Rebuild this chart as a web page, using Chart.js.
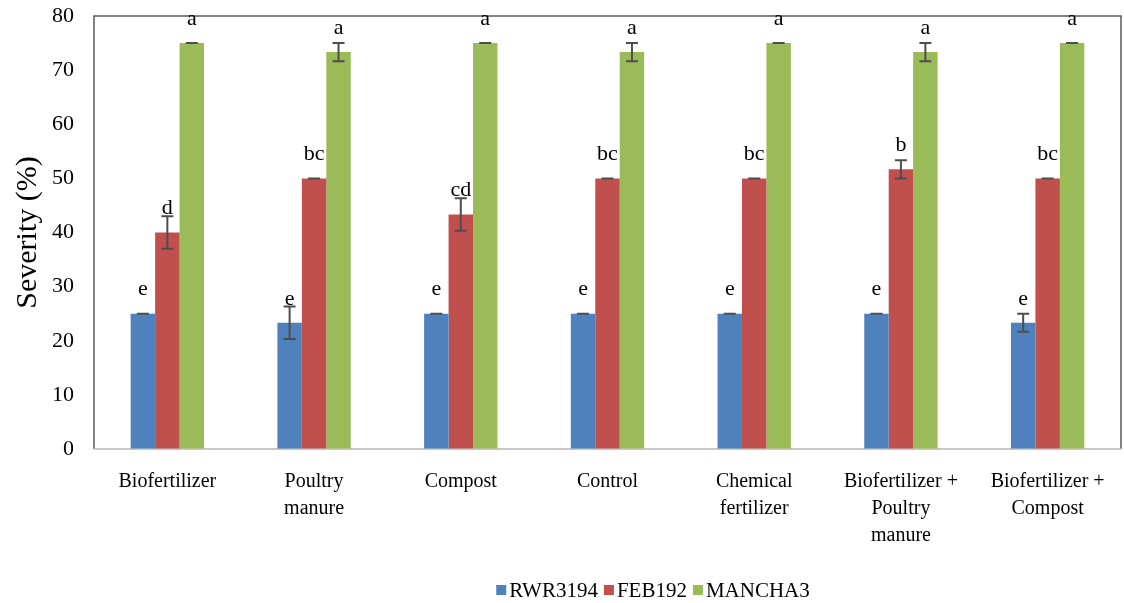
<!DOCTYPE html>
<html>
<head>
<meta charset="utf-8">
<script src="https://cdn.jsdelivr.net/npm/chart.js@4"></script>
<style>
  html, body { margin: 0; padding: 0; background: #fff; }
  #wrap { width: 1124px; height: 603px; }
</style>
</head>
<body>
<div id="wrap"><canvas id="chart"></canvas></div>
<script>
var categories = [
	['Biofertilizer'],
	['Poultry', 'manure'],
	['Compost'],
	['Control'],
	['Chemical', 'fertilizer'],
	['Biofertilizer +', 'Poultry', 'manure'],
	['Biofertilizer +', 'Compost']
];
var seriesNames = ['RWR3194', 'FEB192', 'MANCHA3'];
var seriesColors = ['#4F81BD', '#C0504D', '#9BBB59'];

var rwr3194 = [25, 23.33, 25, 25, 25, 25, 23.33];
var feb192 = [40, 50, 43.33, 50, 50, 51.67, 50];
var mancha3 = [75, 73.33, 75, 73.33, 75, 73.33, 75];

var rwr3194Err = [0, 3, 0, 0, 0, 0, 1.67];
var feb192Err = [3, 0, 3, 0, 0, 1.67, 0];
var mancha3Err = [0, 1.67, 0, 1.67, 0, 1.67, 0];

var rwr3194Letters = ['e', 'e', 'e', 'e', 'e', 'e', 'e'];
var feb192Letters = ['d', 'bc', 'cd', 'bc', 'bc', 'b', 'bc'];
var mancha3Letters = ['a', 'a', 'a', 'a', 'a', 'a', 'a'];

var yTicks = [0, 10, 20, 30, 40, 50, 60, 70, 80];

var allValues = [rwr3194, feb192, mancha3];
var allErrors = [rwr3194Err, feb192Err, mancha3Err];
var allLetters = [rwr3194Letters, feb192Letters, mancha3Letters];

var serif = '"Liberation Serif", "Times New Roman", serif';

// frame round the plot area
var framePlugin = {
	id: 'frame',
	beforeDatasetsDraw: function(chart) {
		var a = chart.chartArea, ctx = chart.ctx;
		ctx.save();
		ctx.strokeStyle = '#595959';
		ctx.lineWidth = 1.5;
		ctx.beginPath();
		ctx.moveTo(a.left, a.bottom);
		ctx.lineTo(a.left, a.top);
		ctx.lineTo(a.right, a.top);
		ctx.lineTo(a.right, a.bottom);
		ctx.stroke();
		ctx.strokeStyle = '#c8c8c8';
		ctx.lineWidth = 2;
		ctx.beginPath();
		ctx.moveTo(a.left, a.bottom);
		ctx.lineTo(a.right, a.bottom);
		ctx.stroke();
		ctx.restore();
	}
};

// error bars and letters
var errorPlugin = {
	id: 'errors',
	afterDatasetsDraw: function(chart) {
		var ctx = chart.ctx, y = chart.scales.y;
		ctx.save();
		for (var d = 0; d < chart.data.datasets.length; d++) {
			var meta = chart.getDatasetMeta(d);
			meta.data.forEach(function(bar, i) {
				var v = allValues[d][i], e = allErrors[d][i];
				var hi = y.getPixelForValue(v + e), lo = y.getPixelForValue(v - e);
				ctx.strokeStyle = '#4d4d4d';
				ctx.lineWidth = 2;
				ctx.beginPath();
				ctx.moveTo(bar.x, hi); ctx.lineTo(bar.x, lo);
				ctx.moveTo(bar.x - 6, hi); ctx.lineTo(bar.x + 6, hi);
				ctx.moveTo(bar.x - 6, lo); ctx.lineTo(bar.x + 6, lo);
				ctx.stroke();

				ctx.fillStyle = '#000';
				ctx.font = '22px ' + serif;
				ctx.textAlign = 'center';
				ctx.textBaseline = 'middle';
				ctx.fillText(allLetters[d][i], bar.x, bar.y - 24);
			});
		}
		ctx.restore();
	}
};

// legend under the chart
var legendPlugin = {
	id: 'bottomLegend',
	afterDraw: function(chart) {
		var ctx = chart.ctx;
		ctx.save();
		ctx.font = '21px ' + serif;
		ctx.textBaseline = 'middle';
		ctx.textAlign = 'left';
		var box = 10, gap = 3, space = 6;
		var total = 0;
		seriesNames.forEach(function(n, i) {
			total += box + gap + ctx.measureText(n).width + (i < seriesNames.length - 1 ? space : 0);
		});
		var x = 653 - total / 2, cy = 590;
		seriesNames.forEach(function(n, i) {
			ctx.fillStyle = seriesColors[i];
			ctx.fillRect(x, cy - box / 2, box, box);
			x += box + gap;
			ctx.fillStyle = '#000';
			ctx.fillText(n, x, cy + 1);
			x += ctx.measureText(n).width + space;
		});
		ctx.restore();
	}
};

var datasets = seriesNames.map(function(name, i) {
	return {
		label: name,
		data: allValues[i],
		backgroundColor: seriesColors[i],
		borderWidth: 0,
		barPercentage: 1,
		categoryPercentage: 0.5
	};
});

new Chart(document.getElementById('chart'), {
	type: 'bar',
	data: { labels: categories, datasets: datasets },
	options: {
		responsive: true,
		maintainAspectRatio: false,
		animation: false,
		layout: { padding: { top: 16, right: 3, left: 0, bottom: 0 } },
		plugins: {
			legend: { display: false },
			tooltip: { enabled: false }
		},
		scales: {
			x: {
				grid: { display: false, drawTicks: false },
				border: { display: false },
				ticks: {
					color: '#000',
					padding: 19,
					maxRotation: 0,
					autoSkip: false,
					font: { family: serif, size: 20, lineHeight: 1.35 }
				},
				afterFit: function(s) { s.height = 154; }
			},
			y: {
				min: 0,
				max: 80,
				afterBuildTicks: function(s) {
					s.ticks = yTicks.map(function(v) { return { value: v }; });
				},
				grid: {
					display: true,
					drawOnChartArea: false,
					drawTicks: true,
					tickLength: 20,
					color: 'rgba(0,0,0,0)'
				},
				border: { display: false },
				ticks: {
					color: '#000',
					padding: 0,
					font: { family: serif, size: 22 }
				},
				title: {
					display: true,
					text: 'Severity (%)',
					color: '#000',
					padding: { top: 10, bottom: 0 },
					font: { family: serif, size: 30, lineHeight: 1.2 }
				},
				afterFit: function(s) { s.width = 94; }
			}
		}
	},
	plugins: [framePlugin, errorPlugin, legendPlugin]
});
</script>
</body>
</html>
